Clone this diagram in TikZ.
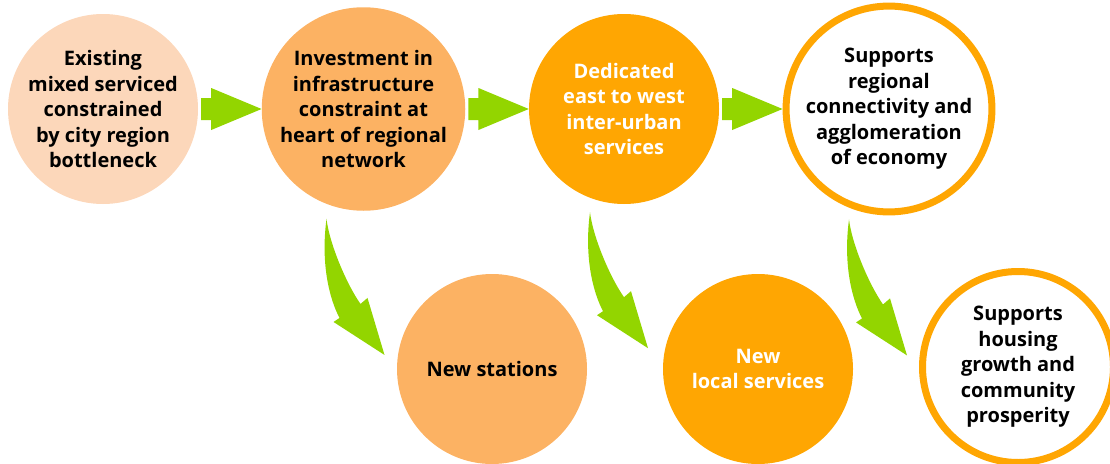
\documentclass[tikz,border=0pt]{standalone}
\usepackage{fontspec}
\setmainfont{Open Sans}
\usetikzlibrary{calc}
\definecolor{peach}{HTML}{FCD7BA}
\definecolor{lorange}{HTML}{FCB263}
\definecolor{orng}{HTML}{FFA602}
\definecolor{arrgreen}{HTML}{93D500}
\newcommand\hblock[2]{\fill[arrgreen] ($(#1.east)+(3,-11)$) -- ++(10,0) -- ++(0,-10) -- (#2.west) -- ($(#1.east)+(13,21)$) -- ++(0,-10) -- ($(#1.east)+(3,11)$) -- cycle;}
\begin{document}
\begin{tikzpicture}[x=1pt,y=-1pt,
  circ/.style={circle, minimum size=190pt, inner sep=0pt, align=center,
    font=\fontsize{20}{25.5}\selectfont\bfseries},
  ring/.style={circ, draw=orng, line width=7pt, fill=white, minimum size=191pt},
  curvearr/.pic={\fill[arrgreen] (0,0) .. controls (3,25) and (20,65) .. (34,85)
     -- (41,79) -- (58,136) -- (7,103) -- (13,99) .. controls (3,80) and (-6,45) .. (0,0) -- cycle;}]
\useasboundingbox (0,0) rectangle (1110,463);
\node[circ, fill=peach] (c1) at (103,109) {Existing\\mixed serviced\\constrained\\by city region\\bottleneck};
\node[circ, fill=lorange] (c2) at (363.5,109) {Investment in\\infrastructure\\constraint at\\heart of regional\\network};
\node[circ, fill=orng, text=white] (c3) at (624,109) {Dedicated\\east to west\\inter-urban\\services};
\node[ring] (c4) at (889,109) {Supports\\regional\\connectivity and\\agglomeration\\of economy};
\node[circ, fill=lorange] (c5) at (492,369) {New stations};
\node[circ, fill=orng, text=white] (c6) at (758,369) {New\\local services};
\node[ring] (c7) at (1018,367) {Supports\\housing\\growth and\\community\\prosperity};
\hblock{c1}{c2}
\hblock{c2}{c3}
\hblock{c3}{c4}
\coordinate (t1) at ($(c2.south)+(-37,8)$);
\coordinate (t2) at ($(c3.south)+(-34,8)$);
\coordinate (t3) at ($(c4.south)+(-40,4)$);
\pic at (t1) {curvearr};
\pic at (t2) {curvearr};
\pic at (t3) {curvearr};
\end{tikzpicture}
\end{document}
